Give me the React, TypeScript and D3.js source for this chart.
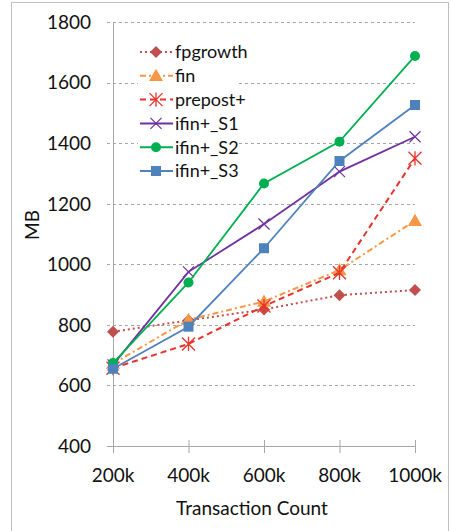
import React from "react";
import * as d3 from "d3";

const categories = ["200k", "400k", "600k", "800k", "1000k"];
const yTicks = [400, 600, 800, 1000, 1200, 1400, 1600, 1800];
const fpgrowth = [777, 815, 851, 898, 915];
const fin = [672, 817, 877, 981, 1144];
const prepost = [657, 737, 862, 972, 1350];
const ifinS1 = [668, 975, 1133, 1306, 1421];
const ifinS2 = [674, 940, 1267, 1405, 1688];
const ifinS3 = [655, 794, 1053, 1341, 1526];

const seriesNames = ["fpgrowth", "fin", "prepost+", "ifin+_S1", "ifin+_S2", "ifin+_S3"];
const seriesValues = [fpgrowth, fin, prepost, ifinS1, ifinS2, ifinS3];
const colors = ["#C0504D", "#F79646", "#E8322B", "#7030A0", "#00B050", "#4F81BD"];
const dashes = ["2,3", "6,3,2,3", "6,4", "", "", ""];
const markers = ["diamond", "triangle", "star", "x", "circle", "square"];

const FONT = "Lato, 'Open Sans', sans-serif";

function Marker({ type, x, y, color }: { type: string; x: number; y: number; color: string }) {
  if (type === "diamond") {
    const s = 6;
    return <path d={`M${x},${y - s}L${x + s},${y}L${x},${y + s}L${x - s},${y}Z`} fill={color} />;
  }
  if (type === "triangle") {
    const s = 7;
    return <path d={`M${x},${y - s}L${x + s},${y + s * 0.75}L${x - s},${y + s * 0.75}Z`} fill={color} />;
  }
  if (type === "square") {
    const s = 5;
    return <rect x={x - s} y={y - s} width={2 * s} height={2 * s} fill={color} />;
  }
  if (type === "circle") {
    return <circle cx={x} cy={y} r={5} fill={color} />;
  }
  if (type === "x") {
    const s = 5.5;
    return (
      <path d={`M${x - s},${y - s}L${x + s},${y + s}M${x - s},${y + s}L${x + s},${y - s}`} stroke={color} strokeWidth={1.2} fill="none" />
    );
  }
  const s = 6.5;
  return (
    <path
      d={`M${x - s},${y - s}L${x + s},${y + s}M${x - s},${y + s}L${x + s},${y - s}M${x},${y - s * 1.1}L${x},${y + s * 1.1}`}
      stroke={color}
      strokeWidth={1.3}
      fill="none"
    />
  );
}

export default function App() {
  const W = 451;
  const H = 531;
  const x = d3.scalePoint<string>().domain(categories).range([113, 415]);
  const y = d3.scaleLinear().domain([400, 1800]).range([446, 22]);
  const line = d3
    .line<number>()
    .x((_, i) => x(categories[i]) as number)
    .y((d) => y(d));

  return (
    <svg width={W} height={H} style={{ position: "absolute", left: 0, top: 0 }}>
      <rect x={0} y={0} width={W} height={H} fill="#fff" />
      <rect x={11.5} y={2.5} width={437} height={560} fill="none" stroke="#BFBFBF" strokeWidth={1} />
      {yTicks.slice(1).map((t) => (
        <line key={t} x1={107} x2={415} y1={Math.round(y(t)) + 0.5} y2={Math.round(y(t)) + 0.5} stroke="#A6A6A6" strokeDasharray="3,3" strokeWidth={1} />
      ))}
      <line x1={113.5} x2={113.5} y1={y(1800)} y2={y(400)} stroke="#A6A6A6" />
      <line x1={107} x2={415} y1={446.5} y2={446.5} stroke="#A6A6A6" />
      {categories.map((c) => (
        <line key={c} x1={(x(c) as number) + 0.5} x2={(x(c) as number) + 0.5} y1={440} y2={453} stroke="#A6A6A6" />
      ))}
      {yTicks.map((t) => (
        <text key={t} x={91} y={y(t)} dy="0.36em" textAnchor="end" fontFamily={FONT} fontSize={19} fill="#111">
          {t}
        </text>
      ))}
      {categories.map((c) => (
        <text key={c} x={x(c) as number} y={482} textAnchor="middle" fontFamily={FONT} fontSize={19} fill="#111">
          {c}
        </text>
      ))}
      <text x={252} y={515} textAnchor="middle" fontFamily={FONT} fontSize={19} fill="#111">
        Transaction Count
      </text>
      <text transform="translate(39,225) rotate(-90)" textAnchor="middle" fontFamily={FONT} fontSize={19} fill="#111">
        MB
      </text>
      {seriesValues.map((vals, si) => (
        <g key={seriesNames[si]}>
          <path d={line(vals) as string} fill="none" stroke={colors[si]} strokeWidth={si < 3 ? 2 : 1.8} strokeDasharray={dashes[si]} />
          {vals.map((v, i) => (
            <Marker key={i} type={markers[si]} x={x(categories[i]) as number} y={y(v)} color={colors[si]} />
          ))}
        </g>
      ))}
      <rect x={138} y={38} width={100} height={146} fill="#fff" />
      {seriesNames.map((n, i) => {
        const ly = 52 + i * 23.8;
        return (
          <g key={n}>
            <line x1={140} x2={173} y1={ly} y2={ly} stroke={colors[i]} strokeWidth={2} strokeDasharray={dashes[i]} />
            <Marker type={markers[i]} x={156} y={ly} color={colors[i]} />
            <text x={175} y={ly} dy="0.36em" fontFamily={FONT} fontSize={18} fill="#111">
              {n}
            </text>
          </g>
        );
      })}
    </svg>
  );
}
